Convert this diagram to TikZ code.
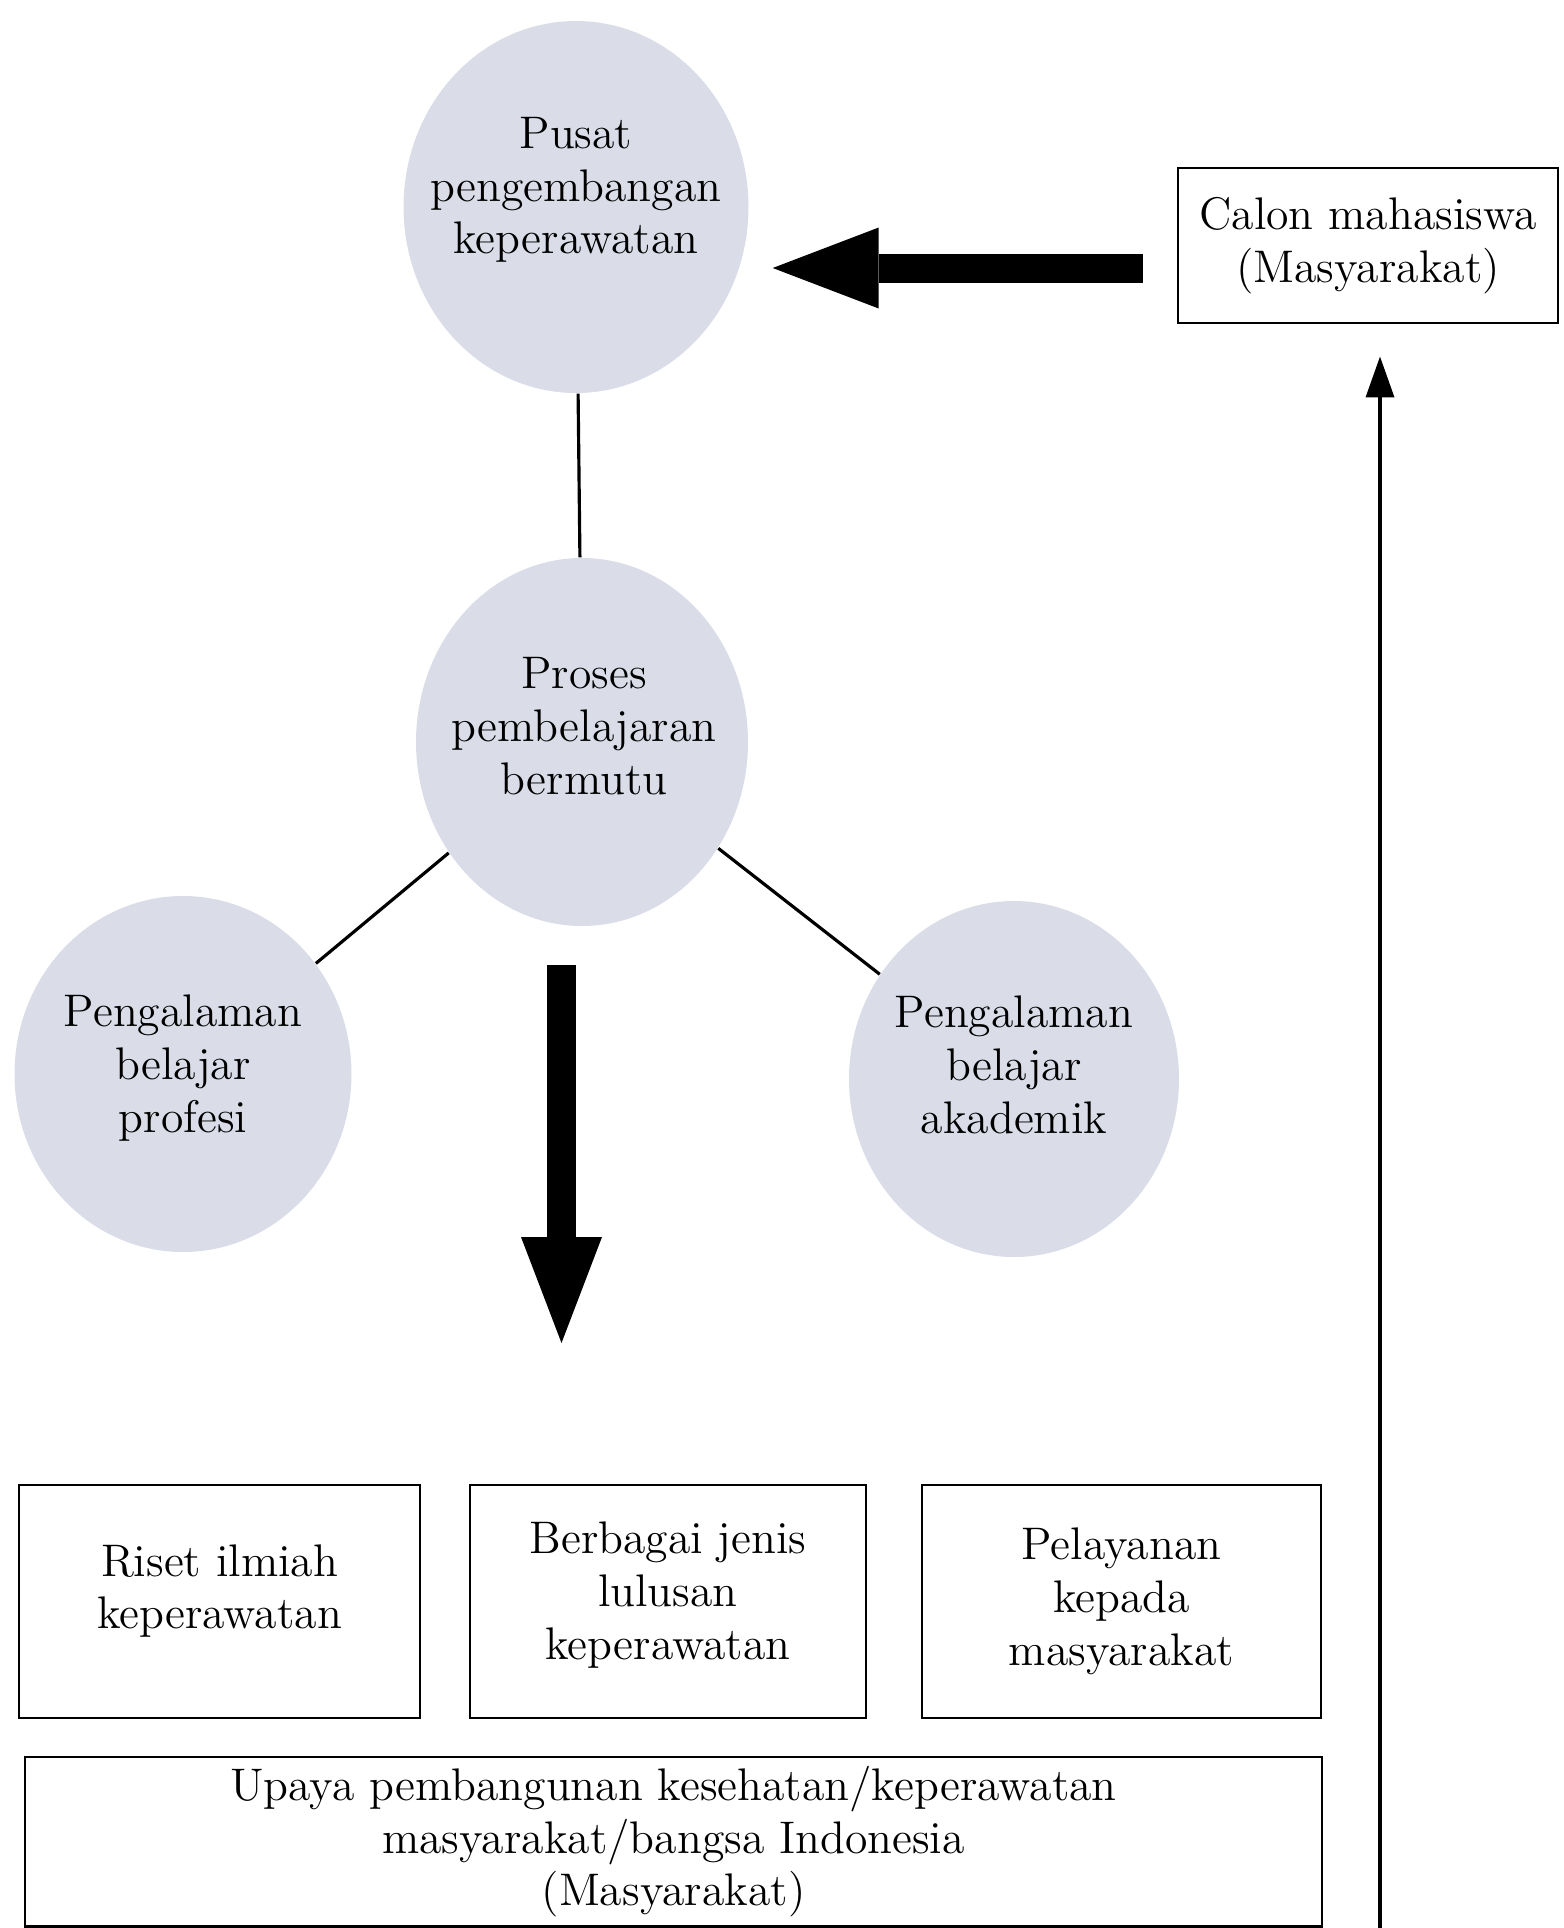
\documentclass[tikz,border=0pt]{standalone}
\usetikzlibrary{arrows.meta,shapes.geometric}
\definecolor{blobfill}{RGB}{218,221,232}
\begin{document}
\begin{tikzpicture}[
    blob/.style={ellipse, fill=blobfill, inner sep=0pt},
    kotak/.style={draw, line width=0.8pt, inner sep=0pt, align=center},
    teks/.style={align=center, inner sep=0pt},
    panah/.style={line width=0.29cm, -{Triangle[length=1.06cm, width=0.81cm, line width=0pt]}},
    every node/.style={font=\fontsize{13}{15}\selectfont}
  ]
  \useasboundingbox (0,0) rectangle (15.63,-19.28);
  \draw
    (5.76,-2.07) node[blob, minimum width=3.45cm, minimum height=3.72cm] (pusat){}
    (5.82,-7.42) node[blob, minimum width=3.32cm, minimum height=3.68cm] (proses){}
    (1.83,-10.74) node[blob, minimum width=3.37cm, minimum height=3.56cm] (profesi){}
    (10.14,-10.79) node[blob, minimum width=3.3cm, minimum height=3.56cm] (akademik){}
    (5.76,-1.90) node[teks] (pusatteks){Pusat\\pengembangan\\keperawatan}
    (5.84,-7.26) node[teks] (prosesteks){Proses\\pembelajaran\\bermutu}
    (1.83,-10.68) node[teks] (profesiteks){Pengalaman\\belajar\\profesi}
    (10.14,-10.65) node[teks] (akademikteks){Pengalaman\\belajar\\akademik}
    (13.68,-2.455) node[kotak, minimum width=3.8cm, minimum height=1.55cm] (calon){Calon mahasiswa\\(Masyarakat)}
    (2.195,-16.015) node[kotak, minimum width=4.01cm, minimum height=2.33cm] (riset){}
    (6.68,-16.015) node[kotak, minimum width=3.96cm, minimum height=2.33cm] (lulusan){}
    (2.195,-15.91) node[teks] (risetteks){Riset ilmiah\\keperawatan}
    (6.68,-15.95) node[teks] (lulusanteks){Berbagai jenis\\lulusan\\keperawatan}
    (11.215,-16.015) node[kotak, minimum width=3.99cm, minimum height=2.33cm] (pelayanan){Pelayanan\\kepada\\masyarakat}
    (6.735,-18.4175) node[kotak, minimum width=12.97cm, minimum height=1.695cm] (upaya){Upaya pembangunan kesehatan/keperawatan\\masyarakat/bangsa Indonesia\\(Masyarakat)};
  \coordinate (turun) at (5.615,-9.65);
  \coordinate (ujung) at (5.615,-13.43);
  \coordinate (dasar) at (13.80,-19.28);
  \begin{scope}[-, line width=0.9pt]
    \draw (pusat) to (proses);
    \draw (proses) to (profesi);
    \draw (proses) to (akademik);
  \end{scope}
  \draw[panah, shorten <=0.34cm, shorten >=0.235cm] ([yshift=-0.225cm]calon.west) -- ([yshift=-0.225cm]calon.west -| pusat.east);
  \draw[panah] (turun) -- (ujung);
  \draw[line width=1pt, -{Triangle[length=0.41cm, width=0.28cm]}, shorten >=0.32cm] (dasar) -- (dasar |- calon.south);
\end{tikzpicture}
\end{document}
